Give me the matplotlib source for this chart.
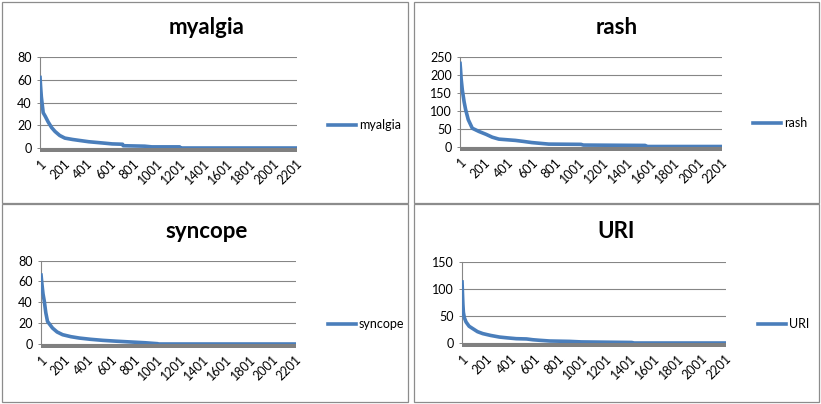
import matplotlib.pyplot as plt
from matplotlib.patches import Rectangle

# sorted counts per term at the points where the curve bends
n_items = 2208
tick_labels = [str(v) for v in range(1, 2202, 200)]

myalgia_rank = [1, 5, 12, 20, 28, 45, 70, 100, 130, 170, 214, 280, 342, 420, 485, 560, 620, 710,
                715, 900, 960, 1200, 1210, n_items]
myalgia_count = [62, 55, 45, 38, 31, 28, 23, 18, 14.5, 11, 8.7, 7.5, 6.6, 5.5, 4.9, 4.2, 3.6, 3.3,
                 2, 1.6, 1, 1, 0, 0]

rash_rank = [1, 5, 10, 20, 35, 48, 70, 104, 160, 220, 272, 328, 468, 540, 605, 748, 1020, 1040,
             1560, 1580, n_items]
rash_count = [232, 215, 190, 158, 125, 103, 75, 51, 42, 34, 26, 20.6, 17, 14, 11, 6.7, 6, 4,
              3, 0, 0]

syncope_rank = [1, 8, 18, 29, 42, 57, 100, 140, 188, 260, 332, 430, 535, 650, 766, 900, 1010,
                1020, n_items]
syncope_count = [66, 58, 48, 41, 30, 21.6, 15.3, 11.5, 8.9, 7, 5.7, 4.5, 3.5, 2.7, 2, 1.2, 0.3,
                 0, 0]

uri_rank = [1, 4, 8, 12, 20, 34, 60, 90, 130, 174, 240, 314, 380, 454, 540, 594, 650, 734, 900,
            1000, 1200, 1420, 1440, n_items]
uri_count = [113, 95, 72, 57, 47, 39, 31, 26.7, 21, 17.4, 14, 11, 9.5, 8, 7.5, 6, 5, 3.7, 3,
             2, 1.5, 1, 0, 0]

W, H = 821, 404
plt.rcParams['font.family'] = ['Lato', 'DejaVu Sans']
fig = plt.figure(figsize=(W / 100, H / 100), dpi=100)
fig.patch.set_facecolor('white')

line_color = '#4A7EBB'
grid_color = '#868686'

# panel frame (x0, y0, x1, y1 in px from top-left), plot box, title position, legend position
panels = [
    dict(name='myalgia', x=myalgia_rank, y=myalgia_count, ymax=80, step=20,
         frame=(2, 2, 408, 203), box=(40, 57, 297, 148), title=(207, 28), leg=(328, 125)),
    dict(name='rash', x=rash_rank, y=rash_count, ymax=250, step=50,
         frame=(414, 2, 819, 203), box=(460, 57, 722, 146.5), title=(617, 27), leg=(753, 123)),
    dict(name='syncope', x=syncope_rank, y=syncope_count, ymax=80, step=20,
         frame=(2, 204, 408, 402), box=(41, 260.5, 296, 344), title=(207, 232), leg=(328, 324)),
    dict(name='URI', x=uri_rank, y=uri_count, ymax=150, step=50,
         frame=(414, 204, 819, 402), box=(462, 262, 726, 343), title=(616, 232), leg=(758, 324)),
]

for p in panels:
    fx0, fy0, fx1, fy1 = p['frame']
    fig.patches.append(Rectangle((fx0 / W, 1 - fy1 / H), (fx1 - fx0) / W, (fy1 - fy0) / H,
                                 transform=fig.transFigure, fill=False,
                                 edgecolor='#8C8C8C', linewidth=0.9))

    bx0, by0, bx1, by1 = p['box']
    ax = fig.add_axes([bx0 / W, 1 - by1 / H, (bx1 - bx0) / W, (by1 - by0) / H])
    ax.plot(p['x'], p['y'], color=line_color, linewidth=2.6, label=p['name'],
            solid_joinstyle='round', zorder=3)

    ax.set_xlim(0.5, n_items + 0.5)
    ax.set_ylim(0, p['ymax'])
    ax.set_yticks(range(0, p['ymax'] + 1, p['step']))
    ax.set_xticks(range(1, 2202, 200))
    ax.set_xticklabels(tick_labels, rotation=45, ha='right', va='top', rotation_mode='anchor')
    ax.tick_params(axis='x', length=0, pad=7, labelsize=9, colors='black')
    ax.tick_params(axis='y', length=2.5, width=0.7, color=grid_color, pad=3.5, labelsize=9)
    ax.grid(axis='y', color=grid_color, linewidth=0.8)
    ax.set_axisbelow(True)
    for side in ['top', 'right', 'bottom']:
        ax.spines[side].set_visible(False)
    ax.spines['left'].set_color(grid_color)
    ax.spines['left'].set_linewidth(0.8)

    # gray floor under the zero line
    band_h = 4 / (by1 - by0)
    ax.add_patch(Rectangle((0, -band_h), 1, band_h, transform=ax.transAxes,
                           facecolor='#808080', edgecolor='none', clip_on=False, zorder=4))

    tx, ty = p['title']
    fig.text(tx / W, 1 - ty / H, p['name'], ha='center', va='center',
             fontsize=16, fontweight='bold')

    lx, ly = p['leg']
    ax.legend(loc='center left', bbox_to_anchor=(lx / W, 1 - ly / H),
              bbox_transform=fig.transFigure, frameon=False, fontsize=9,
              handlelength=2.2, handletextpad=0.25, borderpad=0, borderaxespad=0)

fig.savefig('out.png', dpi=100)
